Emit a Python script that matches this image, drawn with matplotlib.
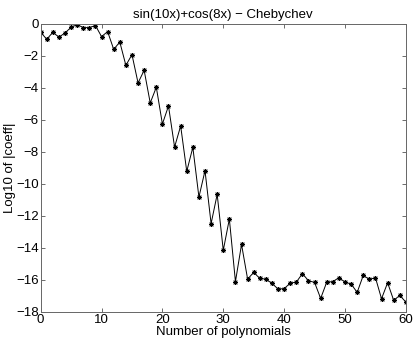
import matplotlib
matplotlib.use("Agg")
import matplotlib.pyplot as plt
import numpy as np

n_poly = list(range(61))
log_coeff = [
    -0.52, -0.96, -0.52, -0.83, -0.56, -0.21, -0.04, -0.23, -0.23, -0.10,
    -0.79, -0.48, -1.59, -1.13, -2.59, -1.92, -3.69, -2.90, -4.94, -3.96,
    -6.26, -5.13, -7.70, -6.38, -9.22, -7.72, -10.83, -9.18, -12.49, -10.66,
    -14.16, -12.20, -16.12, -13.79, -15.96, -15.54, -15.92, -15.96, -16.23, -16.58,
    -16.56, -16.21, -16.15, -15.62, -16.06, -16.17, -17.17, -16.15, -16.12, -15.87,
    -16.15, -16.27, -16.79, -15.73, -15.98, -15.87, -17.19, -16.19, -17.29, -16.98,
    -17.40,
]
x_ticks = [0, 10, 20, 30, 40, 50, 60]
y_ticks = [0, -2, -4, -6, -8, -10, -12, -14, -16, -18]

plt.rcParams['font.family'] = ['Liberation Sans', 'DejaVu Sans']
plt.rcParams['font.size'] = 9.5

fig = plt.figure(figsize=(4.15, 3.42), dpi=100)
ax = fig.add_axes([0.098, 0.0886, 0.88, 0.8414])

# MATLAB-style '*' marker (plus and cross overlaid)
ax.plot(n_poly, log_coeff, color='black', linewidth=0.7,
        marker=(8, 2, 0), markersize=3.6, markeredgewidth=0.6)

ax.set_xlim(0, 60)
ax.set_ylim(-18, 0)
ax.set_xticks(x_ticks)
ax.set_yticks(y_ticks)
ax.set_yticklabels([str(v).replace('-', '\u2212') for v in y_ticks])
ax.tick_params(direction='in', top=True, right=True, length=3, width=0.6,
               colors='#555555', labelcolor='black', pad=1.5)
for sp in ax.spines.values():
    sp.set_color('#666666')
    sp.set_linewidth(0.7)

ax.set_title('sin(10x)+cos(8x) \u2212 Chebychev', fontsize=9.5, pad=4)
ax.set_xlabel('Number of polynomials', labelpad=0.5)
ax.set_ylabel('Log10 of |coeff|', labelpad=0)

fig.savefig('out.png', dpi=100)
